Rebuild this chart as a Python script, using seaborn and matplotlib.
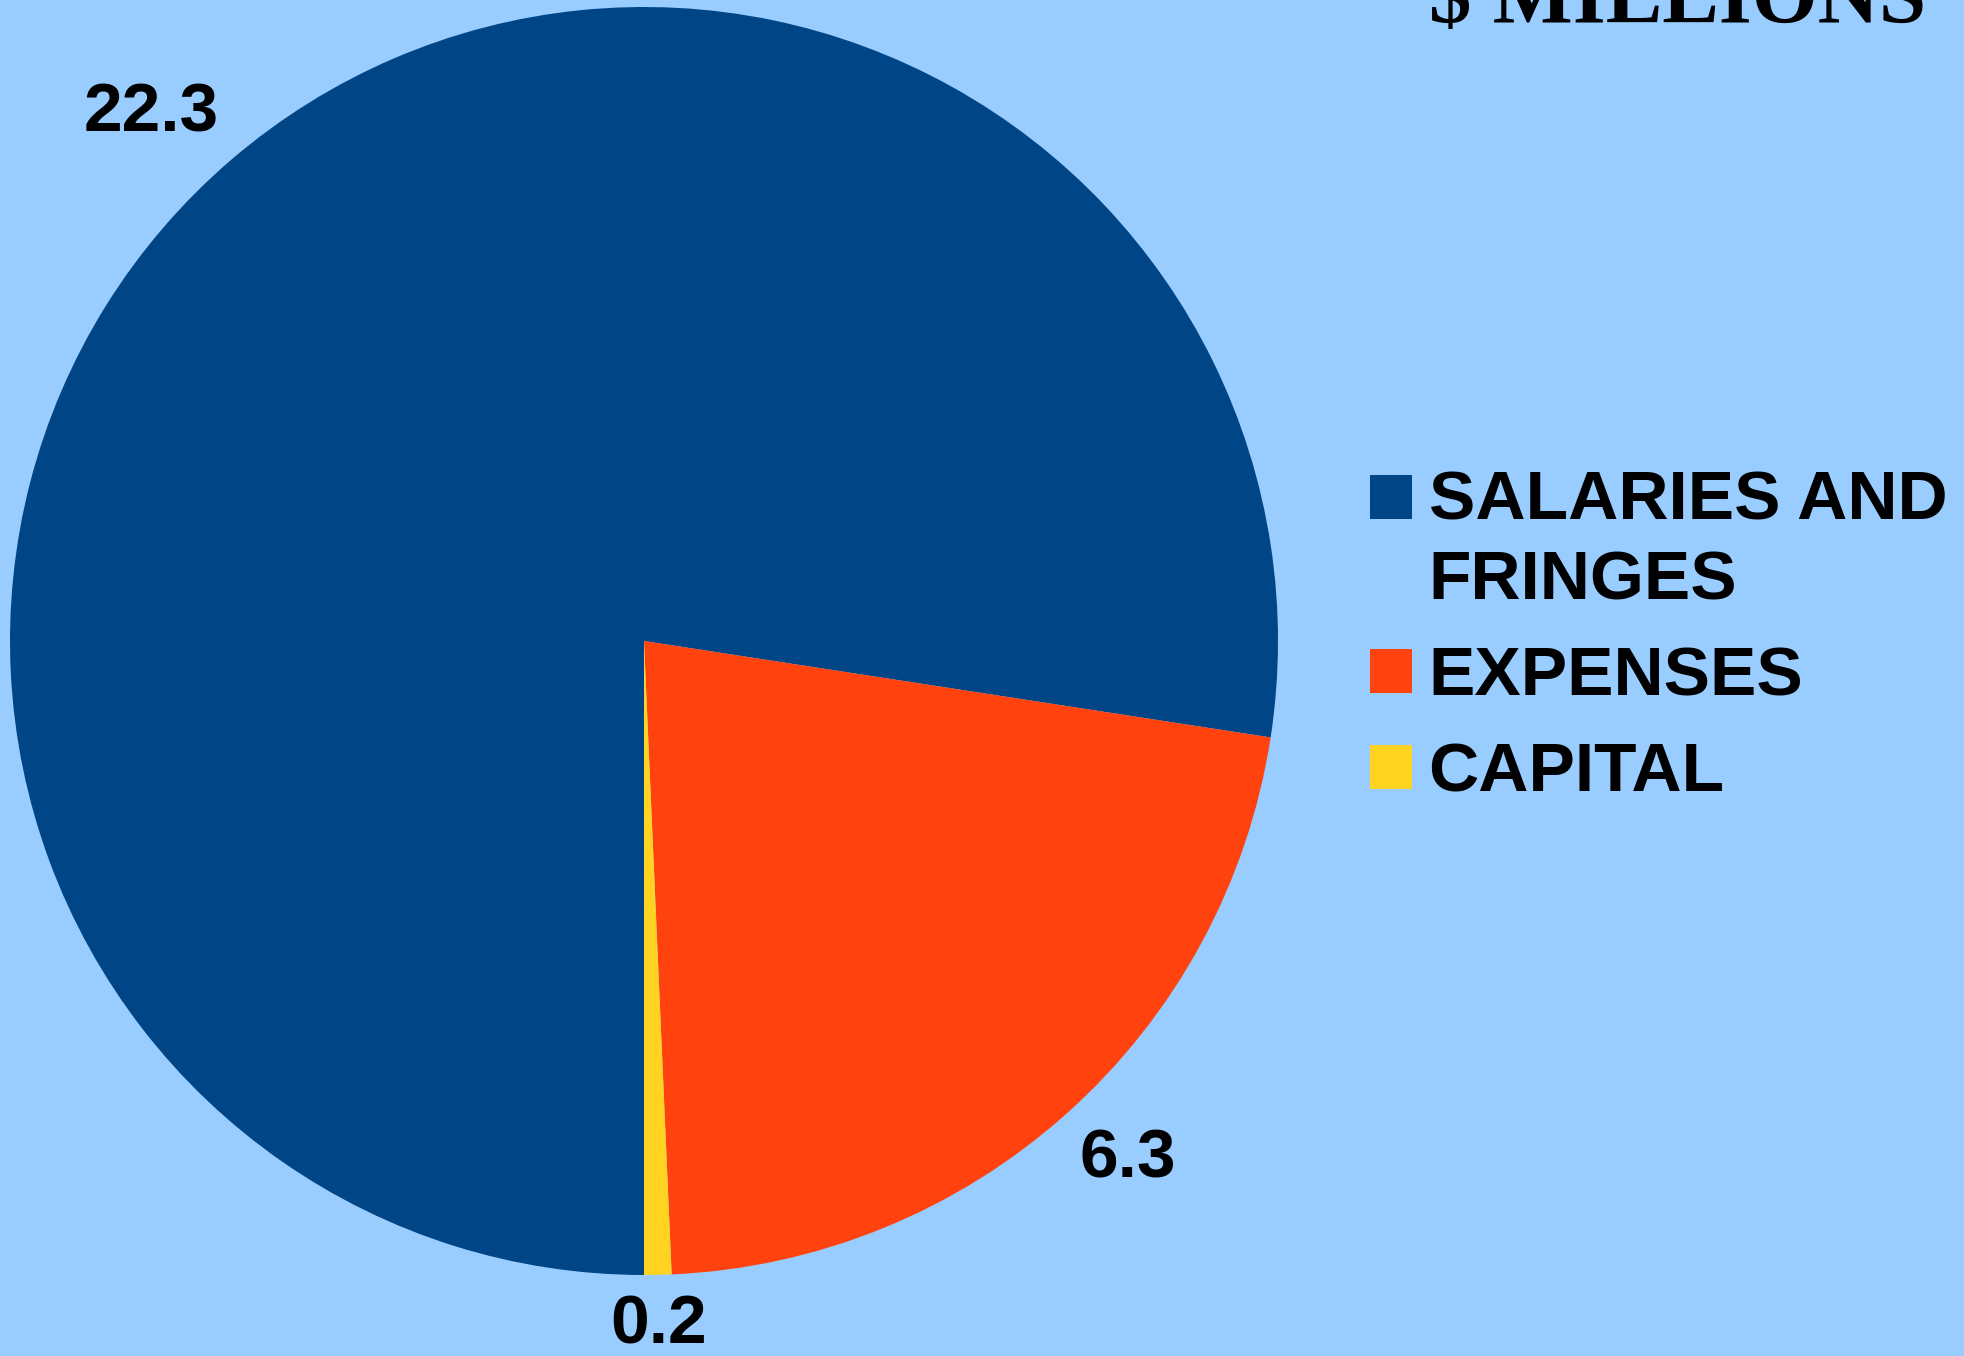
import matplotlib
matplotlib.use('Agg')
import matplotlib.pyplot as plt
import seaborn as sns
import numpy as np
from matplotlib.patches import Rectangle
from matplotlib.legend_handler import HandlerPatch

# data ($ millions)
categories = ['SALARIES AND\nFRINGES', 'EXPENSES', 'CAPITAL']
values = [22.3, 6.3, 0.2]
colors = ['#004586', '#ff420e', '#ffd320']
title = r'\$ MILLIONS'

BG = '#99ccff'
W, H = 1964, 1356
FS = 50

sns.set_theme(style='white')
plt.rcParams['font.family'] = ['Liberation Sans', 'DejaVu Sans']
plt.rcParams['text.color'] = 'black'

fig = plt.figure(figsize=(W / 100, H / 100), dpi=100, facecolor=BG)
# pie centre at (644, 641) px, radius ~634 px; axes spans +-1.25 radii
cx, cy, r = 644, 641, 634
half = 1.25 * r
ax = fig.add_axes([(cx - half) / W, (H - cy - half) / H, 2 * half / W, 2 * half / H])
ax.set_facecolor(BG)

total = sum(values)
wedges, texts, autotexts = ax.pie(
    values, colors=colors, startangle=-90, counterclock=False,
    autopct=lambda p: f'{p * total / 100:.1f}', pctdistance=1.0,
    textprops=dict(fontsize=FS, fontweight='bold', color='black'),
    wedgeprops=dict(linewidth=0))
ax.set_xlim(-1.25, 1.25)
ax.set_ylim(-1.25, 1.25)
ax.set_aspect('equal')

# value labels just outside the rim, aligned away from the pie
for t in autotexts:
    x, y = t.get_position()
    a = np.arctan2(y, x)
    ux, uy = np.cos(a), np.sin(a)
    t.set_position((1.03 * ux, 1.03 * uy))
    t.set_ha('left' if ux > 0.1 else 'right' if ux < -0.1 else 'center')
    t.set_va('bottom' if uy > 0.1 else 'top' if uy < -0.1 else 'center')


def top_line_square(legend, orig_handle, xdescent, ydescent, width, height, fontsize):
    # put the square beside the first line of a two-line label
    return Rectangle((-xdescent, -ydescent + 0.65 * fontsize), width, height)


leg = fig.legend(wedges, categories, loc='upper left',
                 bbox_to_anchor=(1370 / W, 1 - 469 / H),
                 frameon=False, prop=dict(size=FS, weight='bold'),
                 handlelength=0.6, handleheight=0.6, handletextpad=0.243,
                 labelspacing=0.46, borderpad=0, borderaxespad=0,
                 handler_map={wedges[0]: HandlerPatch(patch_func=top_line_square)})
for t in leg.get_texts():
    t.set_linespacing(1.335)
    t.set_color('black')

fig.text(1429 / W, 1 - 23 / H, title, family='Liberation Serif', fontweight='bold',
         fontsize=61, ha='left', va='baseline', color='black')

fig.savefig('out.png', dpi=100, facecolor=BG)
